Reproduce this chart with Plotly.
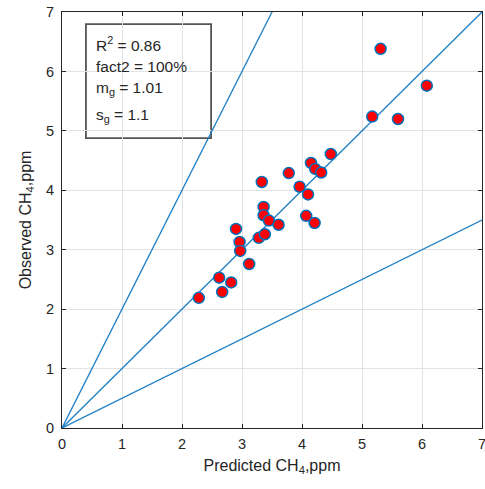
import plotly.graph_objects as go

predicted = [5.31, 6.08, 5.17, 5.60, 4.48, 4.15, 4.22, 4.32, 3.78, 3.33, 3.96, 4.10,
             3.36, 3.36, 3.45, 3.61, 4.07, 4.21, 2.90, 2.96, 2.97, 3.28, 3.38, 3.12,
             2.62, 2.82, 2.67, 2.28]
observed = [6.38, 5.76, 5.24, 5.20, 4.61, 4.46, 4.36, 4.30, 4.29, 4.14, 4.06, 3.93,
            3.72, 3.58, 3.49, 3.42, 3.57, 3.45, 3.35, 3.13, 2.98, 3.20, 3.26, 2.76,
            2.53, 2.45, 2.29, 2.19]
ref_x = [0, 7]
ref_factors = [2, 1, 0.5]
stats_lines = ["R<sup>2</sup> = 0.86", "fact2 = 100%", "m<sub>g</sub> = 1.01", "s<sub>g</sub> = 1.1"]
ticks = [0, 1, 2, 3, 4, 5, 6, 7]

LINE = "#1f7fc4"
AX = "#262626"
FONT = "Liberation Sans"

fig = go.Figure()
for f in ref_factors:
    fig.add_trace(go.Scatter(x=ref_x, y=[v * f for v in ref_x], mode="lines",
                             line=dict(color=LINE, width=1.3), showlegend=False,
                             hoverinfo="skip"))
fig.add_trace(go.Scatter(x=predicted, y=observed, mode="markers",
                         marker=dict(color="#FF0000", size=11,
                                     line=dict(color="#0072BD", width=1.5)),
                         showlegend=False, cliponaxis=False))

axis_common = dict(range=[0, 7], tickvals=ticks, showgrid=True, gridcolor="#e3e3e3",
                   gridwidth=1, zeroline=False, showline=True, linecolor=AX, linewidth=1,
                   mirror="allticks", ticks="inside", ticklen=4, tickcolor=AX,
                   tickfont=dict(size=14.5, color=AX, family=FONT),
                   ticklabeloverflow="allow", fixedrange=True, automargin=False)
fig.update_xaxes(**axis_common, ticklabelstandoff=3,
                 title=dict(text="Predicted CH<sub>4</sub>,ppm",
                            font=dict(size=16, color=AX, family=FONT), standoff=8))
fig.update_yaxes(**axis_common, ticklabelstandoff=4,
                 title=dict(text="Observed CH<sub>4</sub>,ppm",
                            font=dict(size=16, color=AX, family=FONT), standoff=10))

fig.add_shape(type="rect", xref="paper", yref="paper", x0=0.057, x1=0.355,
              y0=0.697, y1=0.971, line=dict(color="#555555", width=1.8),
              fillcolor="white", layer="below")

centers_px = [44, 67, 88, 115]
for txt, cy in zip(stats_lines, centers_px):
    fig.add_annotation(text=txt, xref="paper", yref="paper", x=(94 - 62) / 420,
                       y=(428 - cy) / 416, xanchor="left", yanchor="middle",
                       showarrow=False, font=dict(size=15.5, color=AX, family=FONT))

fig.update_layout(width=485, height=489, margin=dict(l=62, r=3, t=12, b=61),
                  plot_bgcolor="white", paper_bgcolor="white")
fig.write_html("out.html")
